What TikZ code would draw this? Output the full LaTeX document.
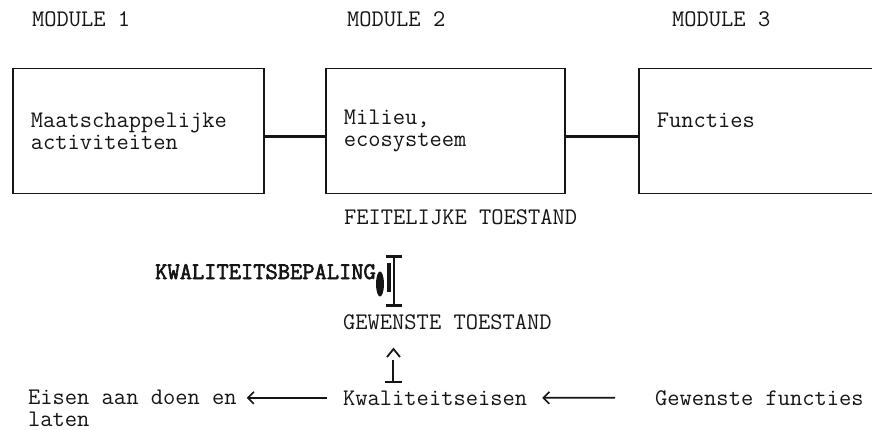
\documentclass[tikz,border=0pt]{standalone}
\usepackage{fontspec}
\newfontfamily\maquina{Latin Modern Mono}
\newfontfamily\maquinab{Latin Modern Mono}[FakeBold=2.5]
\usepackage{tikz}
\usetikzlibrary{arrows.meta}
\definecolor{tinta}{HTML}{151515}
\definecolor{papel}{HTML}{FFFFFF}

\begin{document}
\begin{tikzpicture}[x=1pt, y=1pt,
    every node/.style={font=\maquina\fontsize{23.8}{22}\selectfont,
      text=tinta, inner sep=0pt},
    caja/.style={draw=tinta, line width=1.5pt, anchor=north west,
      align=left, inner xsep=18pt, minimum height=125pt},
    enlace/.style={draw=tinta, line width=2.6pt},
    flecha/.style={draw=tinta, line width=1.6pt,
      -{Straight Barb[length=6pt,width=12pt]}}]

  \def\YM{-27}   % base de los títulos MODULE
  \def\YB{-405}  % base de la fila inferior
  \def\XI{394}   % eje de la I

  \useasboundingbox[fill=papel] (0,0) rectangle (872,-430);

  % ── Títulos de módulo ─────────────────────────────────────
  \node[anchor=base west] (mod1) at (32,\YM)  {MODULE 1};
  \node[anchor=base west] (mod2) at (347,\YM) {MODULE 2};
  \node[anchor=base west] (mod3) at (672,\YM) {MODULE 3};

  % ── Cajas ─────────────────────────────────────────────────
  \node[caja, text width=215pt] (maat) at (12,-68)
    {Maatschappelijke\\activiteiten};
  \node[caja, text width=203pt] (mil) at (325,-68)
    {Milieu,\\ecosysteem};
  \node[caja, text width=204pt] (func) at (638,-68)
    {Functies\\\mbox{}};

  \draw[enlace] ([yshift=-5pt]maat.east) -- ([yshift=-5pt]mil.west);
  \draw[enlace] ([yshift=-5pt]mil.east) -- ([yshift=-5pt]func.west);

  % ── Toestand ──────────────────────────────────────────────
  \node[anchor=base west] (feit) at (344,-225) {FEITELIJKE TOESTAND};
  \node[anchor=base west, font=\maquinab\fontsize{23.8}{22}\selectfont]
    (bep) at (155,-279) {KWALITEITSBEPALING};
  \node[anchor=base west] (gew) at (343,-329) {GEWENSTE TOESTAND};

  \coordinate (itop) at (\XI,-255);
  \coordinate (ibot) at (\XI,-307);
  \draw[tinta, line width=2.6pt, {Bar[width=16pt]}-{Bar[width=16pt]}]
    (itop) -- (ibot);
  \fill[tinta] (380,-284) ellipse (4 and 12.5);
  \fill[tinta] (387,-263) rectangle (390.5,-292);

  % ── Flecha hacia arriba ───────────────────────────────────
  \coordinate (pbot) at (393,-383);
  \coordinate (ptop) at (393,-360);
  \draw[tinta, line width=1.8pt, {Bar[width=17pt]}-] (pbot) -- (ptop);
  \draw[tinta, line width=1.8pt] (387,-357) -- (393.5,-349) -- (400,-357);

  % ── Fila inferior ─────────────────────────────────────────
  \node[anchor=base west, align=left] (eis) at (28,-426)
    {Eisen aan doen en\\laten};
  \node[anchor=base west] (kwal) at (343,\YB) {Kwaliteitseisen};
  \node[anchor=base west] (gewf) at (655,\YB) {Gewenste functies};

  \draw[flecha, shorten <=16pt, shorten >=10pt]
    (kwal.west) -- (eis.east |- kwal.west);
  \draw[flecha, shorten <=40pt, shorten >=15pt]
    (gewf.west) -- (kwal.east);

\end{tikzpicture}
\end{document}
